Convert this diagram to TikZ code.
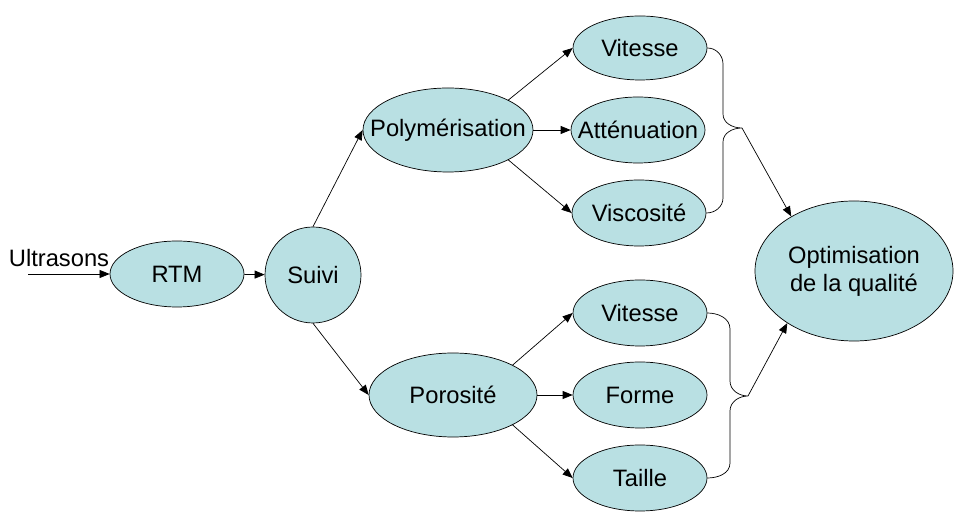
\documentclass[tikz,border=0pt]{standalone}
\usepackage{fontspec}
\setmainfont{Liberation Sans}
\usetikzlibrary{shapes.geometric,arrows.meta}
\definecolor{bleuclair}{RGB}{185,224,227}
\tikzset{
	bulle/.style={ellipse, draw, fill=bleuclair, inner xsep=-4mm, inner ysep=0pt, align=center,
		minimum width=26.8mm, minimum height=13.2mm, font=\fontsize{13.5}{16}\selectfont},
	fleche/.style={-{Triangle[length=2mm,width=1.6mm]}, thin},
	accolade/.style={thin}
}
\begin{document}
\begin{tikzpicture}[x=0.2mm, y=-0.2mm]
\useasboundingbox (0,0) rectangle (955,515);
\node[bulle] (rtm) at (177,274) {RTM};
\node[bulle, minimum width=19.2mm, minimum height=19.2mm] (suivi) at (313,275) {Suivi};
\node[bulle, minimum width=34mm, minimum height=16.8mm] (poly) at (448,130) {Polymérisation};
\node[bulle, minimum width=33.6mm, minimum height=16.8mm] (poro) at (453,395) {Porosité};
\node[bulle, minimum height=12.8mm] (vit1) at (640,48) {Vitesse};
\node[bulle] (att) at (638,130) {Atténuation};
\node[bulle] (visc) at (639,213) {Viscosité};
\node[bulle] (vit2) at (640,313) {Vitesse};
\node[bulle] (forme) at (640,395) {Forme};
\node[bulle] (taille) at (640,478) {Taille};
\node[bulle, minimum width=39.6mm, minimum height=28mm] (opt) at (854,271) {Optimisation\\de la qualité};
\node[font=\fontsize{13.5}{16}\selectfont] (ultra) at (59,258) {Ultrasons};
\coordinate (entree) at (28,274);
\coordinate (pointe1) at (742,128);
\coordinate (pointe2) at (748,396);

\draw[fleche] (entree) -- (rtm);
\draw[fleche] (rtm) -- (suivi);
\draw[fleche] (suivi.north) -- (poly.west);
\draw[fleche] (suivi.south) -- (poro.west);
\foreach \src/\a/\b/\c in {poly/vit1/att/visc, poro/vit2/forme/taille}
{
	\draw[fleche] (\src.north east) -- (\a.west);
	\draw[fleche] (\src.east) -- (\b.west);
	\draw[fleche] (\src.south east) -- (\c.west);
}
\draw[accolade] (vit1.east) to[out=0,in=90] (723,64) -- (723,114) to[out=-90,in=180] (pointe1)
	to[out=180,in=90] (723,142) -- (723,198) to[out=-90,in=0] (visc.east);
\draw[accolade] (vit2.east) to[out=0,in=90] (730,329) -- (730,381) to[out=-90,in=180] (pointe2)
	to[out=180,in=90] (730,411) -- (730,463) to[out=-90,in=0] (taille.east);
\draw[fleche] (pointe1) -- (opt.139);
\draw[fleche] (pointe2) -- (opt.218);
\end{tikzpicture}
\end{document}
